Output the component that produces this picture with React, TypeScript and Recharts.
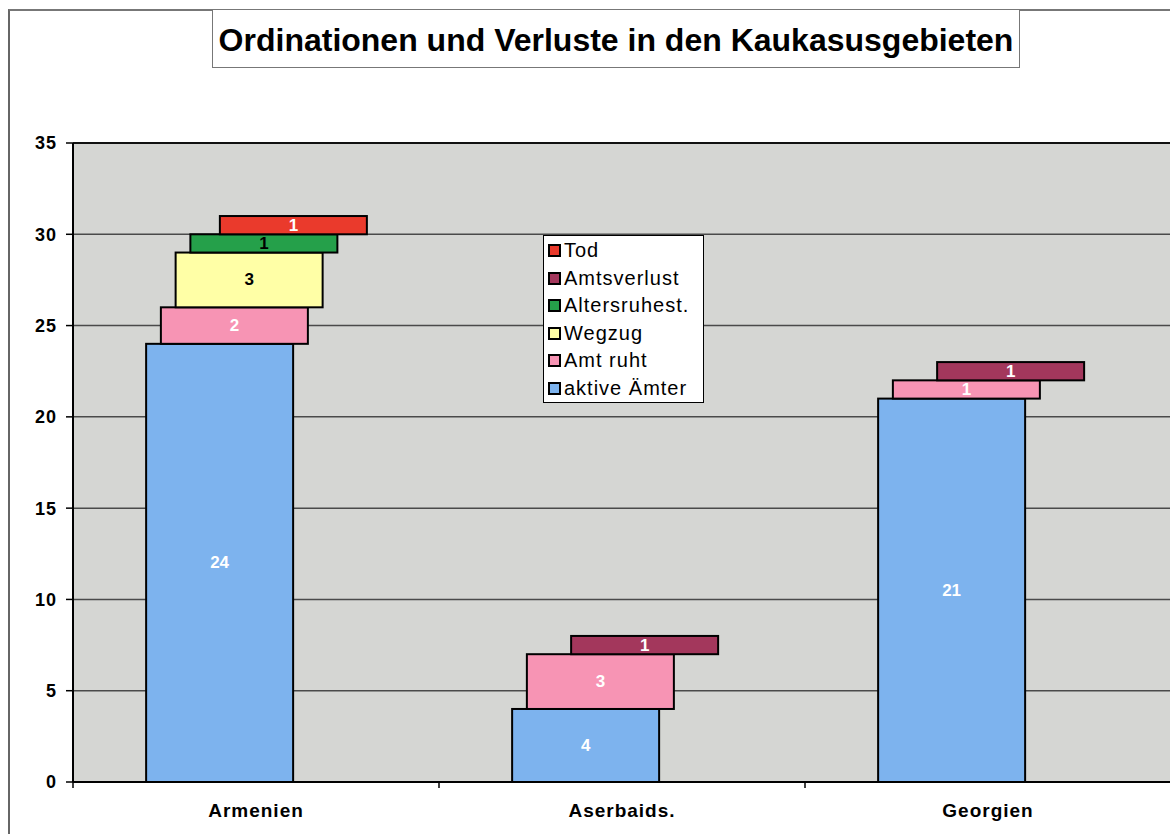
import React from "react";
import { BarChart, Bar, XAxis, YAxis, CartesianGrid, Legend, ReferenceLine } from "recharts";

const categories = ["Armenien", "Aserbaids.", "Georgien"];
const aktiveAemter = [24, 4, 21];
const amtRuht = [2, 3, 1];
const wegzug = [3, 0, 0];
const altersruhest = [1, 0, 0];
const amtsverlust = [0, 1, 1];
const tod = [1, 0, 0];
const yTicks = [0, 5, 10, 15, 20, 25, 30, 35];

const seriesDefs = [
  { key: "aktive", name: "aktive Ämter", values: aktiveAemter, color: "#7db3ee", label: "#ffffff" },
  { key: "ruht", name: "Amt ruht", values: amtRuht, color: "#f794b4", label: "#ffffff" },
  { key: "wegzug", name: "Wegzug", values: wegzug, color: "#ffffa6", label: "#000000" },
  { key: "alters", name: "Altersruhest.", values: altersruhest, color: "#25a04a", label: "#000000" },
  { key: "verlust", name: "Amtsverlust", values: amtsverlust, color: "#a3375c", label: "#ffffff" },
  { key: "tod", name: "Tod", values: tod, color: "#ea3a2c", label: "#ffffff" },
];

const data = categories.map((c, i) => {
  const row: any = { name: c };
  seriesDefs.forEach((s) => (row[s.key] = s.values[i]));
  return row;
});

const STEP = 14.75;
const FONT = "Arial, 'Liberation Sans', sans-serif";

const makeShape = (idx: number, labelColor: string) => (props: any) => {
  const { x, y, width, height, fill, value } = props;
  const v = Array.isArray(value) ? value[1] - value[0] : value;
  if (!height || Math.abs(height) < 0.5 || !v) return null;
  const nx = x + idx * STEP - 2.5 * STEP;
  return (
    <g>
      <rect x={nx} y={y} width={width} height={height} fill={fill} stroke="#000" strokeWidth={2} />
      <text
        x={nx + width / 2}
        y={y + height / 2}
        textAnchor="middle"
        dominantBaseline="central"
        fontFamily={FONT}
        fontWeight="bold"
        fontSize={17}
        fill={labelColor}
      >
        {v}
      </text>
    </g>
  );
};

const XTick = (props: any) => {
  const { x, y, payload, index, visibleTicksCount } = props;
  const half = payload && payload.offset ? payload.offset : 183;
  return (
    <g>
      <line x1={x - half} x2={x - half} y1={y - 8} y2={y - 2} stroke="#000" strokeWidth={1.5} />
      {index === visibleTicksCount - 1 ? (
        <line x1={x + half} x2={x + half} y1={y - 8} y2={y - 2} stroke="#000" strokeWidth={1.5} />
      ) : null}
      <text
        x={x}
        y={y + 27}
        textAnchor="middle"
        fontFamily={FONT}
        fontWeight="bold"
        fontSize={19}
        letterSpacing={1}
        fill="#000"
      >
        {payload.value}
      </text>
    </g>
  );
};

const LegendContent = () => {
  const items = [...seriesDefs].reverse();
  return (
    <div
      style={{
        width: 161,
        height: 168,
        background: "#fff",
        border: "1.5px solid #000",
        boxSizing: "border-box",
        paddingTop: 1,
        paddingLeft: 4,
        fontFamily: FONT,
        textAlign: "left",
      }}
    >
      {items.map((s) => (
        <div key={s.key} style={{ display: "flex", alignItems: "center", height: 27.5 }}>
          <span
            style={{
              display: "inline-block",
              width: 9,
              height: 9,
              background: s.color,
              border: "2px solid #000",
              marginRight: 3,
              flex: "none",
            }}
          />
          <span style={{ fontSize: 20, color: "#000", letterSpacing: 1, whiteSpace: "nowrap" }}>{s.name}</span>
        </div>
      ))}
    </div>
  );
};

export default function App() {
  return (
    <div
      style={{
        position: "absolute",
        left: 0,
        top: 0,
        width: 1170,
        height: 834,
        overflow: "hidden",
        background: "#fff",
      }}
    >
      <div
        style={{
          position: "absolute",
          left: 8,
          top: 9,
          width: 1170,
          height: 840,
          borderLeft: "2px solid #666",
          borderTop: "2px solid #777",
        }}
      />
      <div
        style={{
          position: "absolute",
          left: 212,
          top: 10,
          width: 808,
          height: 58,
          border: "1.5px solid #777",
          borderTop: "none",
          boxSizing: "border-box",
          display: "flex",
          alignItems: "center",
          justifyContent: "center",
          paddingTop: 3,
          fontFamily: FONT,
          fontWeight: "bold",
          fontSize: 32,
          color: "#000",
          background: "#fff",
          zIndex: 2,
        }}
      >
        Ordinationen und Verluste in den Kaukasusgebieten
      </div>
      <div style={{ position: "absolute", left: 0, top: 0 }}>
        <BarChart
          width={1180}
          height={834}
          data={data}
          margin={{ top: 143, right: 9, left: 0, bottom: 0 }}
          barSize={147}
        >
          <CartesianGrid vertical={false} stroke="#4a4a4a" strokeWidth={1.5} fill="#d5d6d3" />
          <XAxis
            dataKey="name"
            axisLine={{ stroke: "#000", strokeWidth: 2 }}
            tickLine={false}
            tick={<XTick />}
            interval={0}
            height={52}
          />
          <YAxis
            domain={[0, 35]}
            ticks={yTicks}
            width={73}
            axisLine={{ stroke: "#000", strokeWidth: 2 }}
            tickLine={{ stroke: "#000", strokeWidth: 1.5 }}
            tickSize={7}
            tickMargin={9}
            tick={{ fontFamily: FONT, fontWeight: "bold", fontSize: 18, fill: "#000", letterSpacing: 1 }}
            interval={0}
          />
          <ReferenceLine y={35} stroke="#111" strokeWidth={2} />
          <Legend
            layout="horizontal"
            verticalAlign="middle"
            align="center"
            content={<LegendContent />}
            wrapperStyle={{ position: "absolute", left: 543, top: 235, width: 161, height: 168 }}
          />
          {seriesDefs.map((s, i) => (
            <Bar
              key={s.key}
              dataKey={s.key}
              name={s.name}
              stackId="a"
              fill={s.color}
              isAnimationActive={false}
              shape={makeShape(i, s.label)}
            />
          ))}
        </BarChart>
      </div>
    </div>
  );
}
